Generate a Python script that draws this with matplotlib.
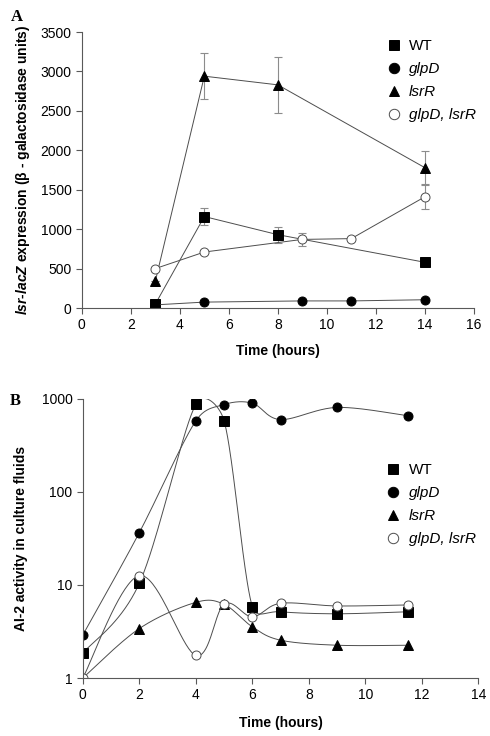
import numpy as np
import matplotlib
matplotlib.use('Agg')
import matplotlib.pyplot as plt

plt.rcParams['font.family'] = ['Liberation Sans', 'DejaVu Sans']
plt.rcParams['mathtext.fontset'] = 'custom'
plt.rcParams['mathtext.bfit'] = 'Liberation Sans:italic:bold'
plt.rcParams['mathtext.it'] = 'Liberation Sans:italic'
plt.rcParams['mathtext.rm'] = 'Liberation Sans'

labels = ['WT', 'glpD', 'lsrR', 'glpD, lsrR']
markers = ['s', 'o', '^', 'o']
faces = ['black', 'black', 'black', 'white']

# Panel A: lsr-lacZ expression
a_wt_x = [3, 5, 8, 14]
a_wt_y = [50, 1160, 930, 580]
a_wt_err = [0, 110, 100, 20]
a_glpd_x = [3, 5, 9, 11, 14]
a_glpd_y = [40, 75, 90, 90, 105]
a_glpd_err = [0, 0, 0, 0, 0]
a_lsrr_x = [3, 5, 8, 14]
a_lsrr_y = [340, 2940, 2830, 1780]
a_lsrr_err = [0, 290, 355, 205]
a_dbl_x = [3, 5, 9, 11, 14]
a_dbl_y = [500, 710, 870, 880, 1410]
a_dbl_err = [0, 0, 85, 0, 150]

# Panel B: AI-2 activity
b_x = [0, 2, 4, 5, 6, 7, 9, 11.5]
b_wt = [1.85, 10.4, 877, 585, 5.85, 5.15, 4.9, 5.15]
b_glpd = [2.9, 36.5, 580, 870, 900, 600, 810, 660]
b_lsrr = [1.0, 3.4, 6.5, 6.2, 3.55, 2.55, 2.25, 2.25]
b_dbl = [1.0, 12.6, 1.75, 6.2, 4.55, 6.35, 5.95, 6.1]

# axes size of panel B in pixels, used so the smoothing works in screen space
BW, BH = 395.0, 279.0


def smooth(x, y, n=40):
    # spreadsheet-style smoothed line: cubic Bezier, control arms 1/6 of the
    # neighbour chord but never longer than half of the segment
    px = np.asarray(x, float) / 14 * BW
    py = np.log10(np.asarray(y, float)) / 3 * BH
    P = np.column_stack([px, py])
    P = np.vstack([P[0], P, P[-1]])
    t = np.linspace(0, 1, n)[:, None]
    out = []
    for i in range(1, len(P) - 2):
        p0, p1, p2, p3 = P[i - 1], P[i], P[i + 1], P[i + 2]
        seg = np.linalg.norm(p2 - p1)
        d1 = p2 - p0
        d2 = p3 - p1
        l1 = np.linalg.norm(d1) / 6
        l2 = np.linalg.norm(d2) / 6
        c1 = p1 + (d1 / np.linalg.norm(d1) * min(l1, seg / 2) if l1 > 0 else 0)
        c2 = p2 - (d2 / np.linalg.norm(d2) * min(l2, seg / 2) if l2 > 0 else 0)
        pts = ((1 - t) ** 3 * p1 + 3 * (1 - t) ** 2 * t * c1
               + 3 * (1 - t) * t ** 2 * c2 + t ** 3 * p2)
        out.append(pts)
    out = np.vstack(out)
    return out[:, 0] / BW * 14, 10 ** (out[:, 1] / BH * 3)


def style_axes(ax):
    for s in ['top', 'right']:
        ax.spines[s].set_visible(False)
    for s in ['left', 'bottom']:
        ax.spines[s].set_color('0.35')
        ax.spines[s].set_linewidth(0.8)
    ax.tick_params(direction='out', length=4, color='0.35', labelsize=10, width=0.8)


def legend_handles(handles):
    return [plt.Line2D([], [], ls='none', marker=h.get_marker(), markersize=7.5,
                       markerfacecolor=h.get_markerfacecolor(),
                       markeredgecolor=h.get_markeredgecolor(), markeredgewidth=0.7)
            for h in handles]


fig = plt.figure(figsize=(4.9, 7.36), dpi=100)

# ---- Panel A
ax1 = fig.add_axes([0.167, 0.5815, 0.80, 0.375])
series_a = [(a_wt_x, a_wt_y, a_wt_err), (a_glpd_x, a_glpd_y, a_glpd_err),
            (a_lsrr_x, a_lsrr_y, a_lsrr_err), (a_dbl_x, a_dbl_y, a_dbl_err)]
handles = []
for (x, y, e), lab, m, fc in zip(series_a, labels, markers, faces):
    ax1.errorbar(x, y, yerr=e, fmt='none', ecolor='0.55', elinewidth=0.8, capsize=3, capthick=0.8)
    h, = ax1.plot(x, y, color='0.3', lw=0.7, marker=m, markersize=6.5,
                  markerfacecolor=fc, markeredgecolor='black' if fc == 'black' else '0.3',
                  markeredgewidth=0.7, label=lab)
    handles.append(h)
ax1.set_xlim(0, 16)
ax1.set_ylim(0, 3500)
ax1.set_xticks(range(0, 17, 2))
ax1.set_yticks(range(0, 3501, 500))
style_axes(ax1)
ax1.set_xlabel('Time (hours)', fontsize=10, fontweight='bold', labelpad=8)
ax1.set_ylabel(r'$\mathbfit{lsr}$-$\mathbfit{lacZ}$ expression (β - galactosidase units)',
               fontsize=10, fontweight='bold', labelpad=6)
leg = ax1.legend(handles=legend_handles(handles), labels=labels, loc='upper left',
                 bbox_to_anchor=(0.745, 1.025), frameon=False, fontsize=11,
                 handlelength=0.8, handletextpad=0.6, labelspacing=0.6)
for t in leg.get_texts()[1:]:
    t.set_style('italic')
fig.text(0.022, 0.977, 'A', fontsize=12, fontweight='bold', family='Liberation Serif',
         va='center', ha='left')

# ---- Panel B
ax2 = fig.add_axes([0.169, 0.0788, 0.807, 0.3792])
series_b = [b_wt, b_glpd, b_lsrr, b_dbl]
handles = []
for y, lab, m, fc in zip(series_b, labels, markers, faces):
    sx, sy = smooth(b_x, y)
    ax2.plot(sx, sy, color='0.3', lw=0.7)
    h, = ax2.plot(b_x, y, ls='none', marker=m, markersize=6.5, markerfacecolor=fc,
                  markeredgecolor='black' if fc == 'black' else '0.3', markeredgewidth=0.7,
                  label=lab)
    handles.append(h)
ax2.set_yscale('log')
ax2.set_xlim(0, 14)
ax2.set_ylim(1, 1000)
ax2.set_xticks(range(0, 15, 2))
ax2.set_yticks([1, 10, 100, 1000])
ax2.set_yticklabels(['1', '10', '100', '1000'])
ax2.yaxis.set_minor_locator(matplotlib.ticker.NullLocator())
style_axes(ax2)
ax2.set_xlabel('Time (hours)', fontsize=10, fontweight='bold', labelpad=10)
ax2.set_ylabel('AI-2 activity in culture fluids', fontsize=10, fontweight='bold', labelpad=10)
leg2 = ax2.legend(handles=legend_handles(handles), labels=labels, loc='upper left',
                  bbox_to_anchor=(0.735, 0.82), frameon=False, fontsize=11,
                  handlelength=0.8, handletextpad=0.6, labelspacing=0.6)
for t in leg2.get_texts()[1:]:
    t.set_style('italic')
fig.text(0.02, 0.455, 'B', fontsize=12, fontweight='bold', family='Liberation Serif',
         va='center', ha='left')

fig.savefig('out.png', dpi=100)
